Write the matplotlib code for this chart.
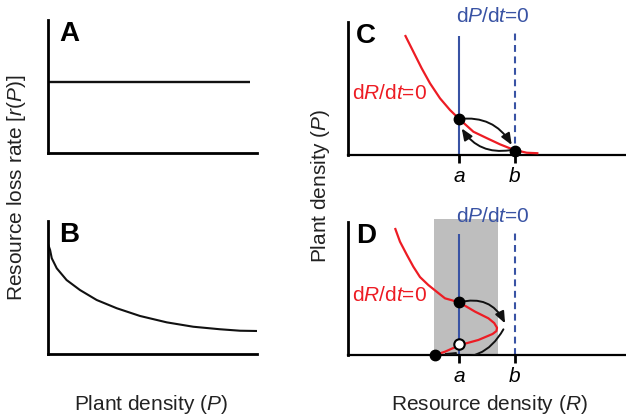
import matplotlib
matplotlib.use('Agg')
import matplotlib.pyplot as plt
from matplotlib.patches import FancyArrowPatch, Rectangle

plt.rcParams['font.family'] = ['Liberation Sans', 'DejaVu Sans']
plt.rcParams['mathtext.fontset'] = 'custom'
plt.rcParams['mathtext.rm'] = 'Liberation Sans'
plt.rcParams['mathtext.it'] = 'Liberation Sans:italic'

BLUE = '#3953a4'
RED = '#ed1c24'
GREY = '#bebebe'

# A: constant loss rate
A_P = [0.0, 9.67]
A_R = [5.34, 5.34]

# B: loss rate decreasing with plant density
B_P = [0.0, 0.1, 0.18, 0.42, 0.89, 1.53, 2.33, 3.29, 4.4, 5.68, 6.95, 8.23, 9.19, 9.99]
B_R = [8.27, 7.82, 7.2, 6.44, 5.56, 4.81, 4.06, 3.44, 2.86, 2.38, 2.05, 1.86, 1.75, 1.73]

# C/D: nullclines
R_A = 4.0
R_B = 6.0
C_NULL_R = [2.05, 2.35, 2.65, 2.95, 3.31, 3.67, 4.0, 4.51, 5.0, 5.47, 5.95, 6.43, 6.85]
C_NULL_P = [9.02, 7.77, 6.52, 5.39, 4.26, 3.38, 2.71, 1.75, 1.26, 0.8, 0.4, 0.17, 0.13]
C_BLUE_TOP = [8.95, 9.17]

D_NULL_R = [1.69, 1.87, 2.12, 2.35, 2.59, 2.89, 3.2, 3.49, 4.0, 4.57, 5.05, 5.26, 5.36,
            5.34, 5.2, 4.69, 4.03, 3.49, 3.13]
D_NULL_P = [9.55, 8.52, 7.52, 6.64, 5.86, 5.26, 4.74, 4.26, 3.96, 3.26, 2.76, 2.4, 2.05,
            1.8, 1.58, 1.13, 0.75, 0.25, 0.0]
D_BLUE_TOP = [9.1, 9.17]
D_SHADE = (3.09, 5.4, 10.25)

# equilibria
C_STABLE = ([4.0, 6.0], [2.71, 0.32])
D_STABLE = ([4.0, 3.13], [3.96, 0.0])
D_UNSTABLE = ([4.0], [0.8])

# trajectories: (start, end, rad)
C_ARROWS = [((4.0, 2.71), (5.89, 0.75), -0.32),
            ((5.83, 0.36), (4.09, 2.0), -0.32)]
D_ARROWS = [((4.0, 3.96), (5.65, 2.38), -0.4),
            ((5.59, 1.93), (3.43, 0.13), -0.4)]


def px(x, y, w, h):
    return [x / 626, (416 - y - h) / 416, w / 626, h / 416]


def style_axes(ax, lw_y=2.0, lw_x=2.0):
    ax.set_xlim(0, 10)
    ax.set_ylim(0, 10)
    for side in ['top', 'right']:
        ax.spines[side].set_visible(False)
    ax.spines['left'].set_linewidth(lw_y)
    ax.spines['bottom'].set_linewidth(lw_x)
    for side in ['left', 'bottom']:
        ax.spines[side].set_capstyle('projecting')
    ax.set_xticks([])
    ax.set_yticks([])
    ax.patch.set_visible(False)


def panel_letter(ax, letter, x, y):
    ax.text(x, y, letter, transform=ax.transAxes, fontsize=20,
            fontweight='bold', ha='left', va='top')


def arrow(ax, start, end, rad):
    ax.add_patch(FancyArrowPatch(start, end,
                                 connectionstyle='arc3,rad=%s' % rad,
                                 arrowstyle='-|>,head_length=0.85,head_width=0.35',
                                 mutation_scale=8, lw=1.4, color='#111111',
                                 shrinkA=0, shrinkB=0, zorder=4))


def phase_panel(ax, null_r, null_p, blue_top, stable, arrows, label_y):
    style_axes(ax, lw_y=2.0, lw_x=1.6)
    ax.set_xticks([R_A, R_B], ['a', 'b'], fontstyle='italic', fontsize=15)
    ax.tick_params(axis='x', length=6, width=2, pad=3, color='black')
    ax.vlines(R_A, 0, blue_top[0], color=BLUE, lw=1.5, zorder=2)
    ax.vlines(R_B, 0, blue_top[1], color=BLUE, lw=1.5, linestyles=(0, (3.3, 2.2)), zorder=2)
    ax.plot(null_r, null_p, color=RED, lw=1.6, zorder=3, solid_capstyle='butt',
            solid_joinstyle='round', clip_on=False)
    ax.plot(*stable, 'o', color='black', ms=7.5, zorder=5, clip_on=False)
    for start, end, rad in arrows:
        arrow(ax, start, end, rad)
    ax.text(5.22, 10.4, 'd$P$/d$t$=0', color=BLUE, fontsize=15,
            ha='center', va='center', zorder=6)
    ax.text(0.15, label_y, 'd$R$/d$t$=0', color=RED, fontsize=15,
            ha='left', va='center', zorder=6)


def main():
    fig = plt.figure(figsize=(6.26, 4.16), dpi=100)

    ax_a = fig.add_axes(px(48, 20, 209, 133))
    style_axes(ax_a)
    ax_a.plot(A_P, A_R, color='#111111', lw=1.7, solid_capstyle='butt')
    panel_letter(ax_a, 'A', 0.055, 0.99)

    ax_b = fig.add_axes(px(48, 221, 209, 133))
    style_axes(ax_b)
    ax_b.plot(B_P, B_R, color='#111111', lw=1.5, solid_joinstyle='round')
    panel_letter(ax_b, 'B', 0.055, 0.99)

    ax_c = fig.add_axes(px(348, 22, 278, 133))
    phase_panel(ax_c, C_NULL_R, C_NULL_P, C_BLUE_TOP, C_STABLE, C_ARROWS, 4.66)
    panel_letter(ax_c, 'C', 0.03, 0.99)

    ax_d = fig.add_axes(px(348, 222, 278, 133))
    ax_d.add_patch(Rectangle((D_SHADE[0], 0), D_SHADE[1] - D_SHADE[0], D_SHADE[2],
                             color=GREY, lw=0, zorder=1, clip_on=False))
    phase_panel(ax_d, D_NULL_R, D_NULL_P, D_BLUE_TOP, D_STABLE, D_ARROWS, 4.5)
    ax_d.plot(*D_UNSTABLE, 'o', mfc='white', mec='black', mew=1.5, ms=7.5, zorder=5)
    panel_letter(ax_d, 'D', 0.03, 0.99)

    fig.text(17 / 626, 1 - 188 / 416, 'Resource loss rate [$r$($P$)]', rotation=90,
             fontsize=15, ha='center', va='center', color='#222222')
    fig.text(151 / 626, 1 - 405 / 416, 'Plant density ($P$)',
             fontsize=15, ha='center', va='center', color='#222222')
    fig.text(320 / 626, 1 - 186 / 416, 'Plant density ($P$)', rotation=90,
             fontsize=15, ha='center', va='center', color='#222222')
    fig.text(489 / 626, 1 - 405 / 416, 'Resource density ($R$)',
             fontsize=15, ha='center', va='center', color='#222222')

    fig.savefig('out.png', dpi=100)


if __name__ == '__main__':
    main()
